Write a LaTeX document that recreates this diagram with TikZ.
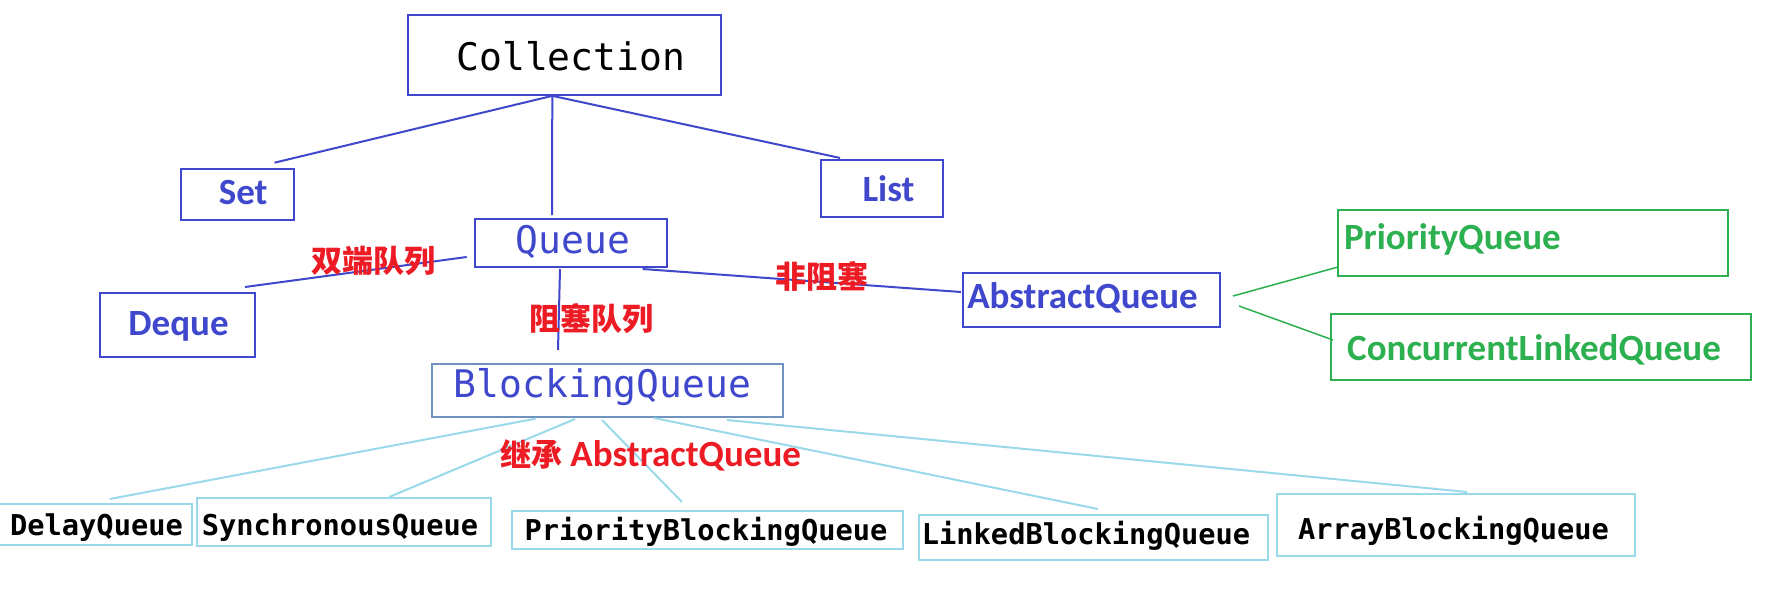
\documentclass[tikz,border=0pt]{standalone}
\usepackage{fontspec}
\newfontfamily\monof{DejaVu Sans Mono}
\newfontfamily\calf{Carlito}
\newfontfamily\cjkf{Noto Sans CJK SC}
\usetikzlibrary{calc}
\definecolor{pblue}{HTML}{3F48CC}
\definecolor{pred}{HTML}{ED1C24}
\definecolor{pgreen}{HTML}{2DB050}
\definecolor{plight}{HTML}{99D9EA}
\definecolor{pgray}{HTML}{7092BE}
\begin{document}
\begin{tikzpicture}[x=1pt,y=-1pt,
  bbox/.style={draw=pblue, line width=2pt, inner sep=0pt, outer sep=0pt},
  lbox/.style={draw=plight, line width=2pt, inner sep=0pt, outer sep=0pt},
  gbox/.style={draw=pgreen, line width=1.8pt, inner sep=0pt, outer sep=0pt},
  graybox/.style={draw=pgray, line width=2pt, inner sep=0pt, outer sep=0pt},
  txt/.style={inner sep=0pt, outer sep=0pt},
  monoT/.style={txt, font=\monof\fontsize{38}{40}\selectfont},
  monoB/.style={txt, font=\monof\bfseries\fontsize{28.7}{30}\selectfont},
  caliT/.style={txt, font=\calf\bfseries\fontsize{37}{40}\selectfont},
  cjkT/.style={txt, text=pred, font=\cjkf\bfseries\fontsize{31}{33}\selectfont},
  bl/.style={draw=pblue, line width=2pt},
  ll/.style={draw=plight, line width=2pt},
  gl/.style={draw=pgreen, line width=1.5pt}
]
\useasboundingbox[fill=white] (0,0) rectangle (1768,594);

% boxes
\node[bbox, minimum width=313.4pt, minimum height=79.7pt] (col) at (564.3,55) {};
\node[bbox, minimum width=112.5pt, minimum height=51pt] (set) at (237.7,194.5) {};
\node[bbox, minimum width=122.3pt, minimum height=56.7pt] (list) at (881.9,188.3) {};
\node[bbox, minimum width=192pt, minimum height=48pt] (queue) at (571,243) {};
\node[bbox, minimum width=155pt, minimum height=64pt] (deque) at (177.5,325) {};
\node[bbox, minimum width=257pt, minimum height=54pt] (abs) at (1091.5,300) {};
\node[gbox, minimum width=390pt, minimum height=66pt] (pq) at (1533,243) {};
\node[gbox, minimum width=420pt, minimum height=66pt] (clq) at (1541,347) {};
\node[graybox, minimum width=351pt, minimum height=53pt] (bq) at (607.5,390.5) {};
\node[lbox, minimum width=194pt, minimum height=41pt] (delay) at (94.8,524.5) {};
\node[lbox, minimum width=294.5pt, minimum height=48pt] (sync) at (344.2,522) {};
\node[lbox, minimum width=391pt, minimum height=38pt] (pbq) at (707.5,530) {};
\node[lbox, minimum width=349pt, minimum height=45pt] (lbq) at (1093.5,537.5) {};
\node[lbox, minimum width=358pt, minimum height=62pt] (abq) at (1456,525) {};

% texts
\node[monoT, anchor=base] (tcol) at (570.8,70.5) {Collection};
\node[caliT, text=pblue, anchor=base] (tset) at (243.2,204) {Set};
\node[caliT, text=pblue, anchor=base] (tlist) at (888.5,201) {List};
\node[monoT, text=pblue, anchor=base] (tqueue) at (573,253) {Queue};
\node[caliT, text=pblue, anchor=base] (tdeque) at (178.5,335) {Deque};
\node[caliT, text=pblue, anchor=base] (tabs) at (1082.5,308) {AbstractQueue};
\node[caliT, text=pgreen, anchor=base west] (tpq) at (1344,249) {PriorityQueue};
\node[caliT, text=pgreen, anchor=base] (tclq) at (1534,360) {ConcurrentLinkedQueue};
\node[monoT, text=pblue, anchor=base] (tbq) at (602.5,397.5) {BlockingQueue};
\node[monoB, anchor=base] (tdelay) at (96.5,535) {DelayQueue};
\node[monoB, anchor=base] (tsync) at (340,535) {SynchronousQueue};
\node[monoB, anchor=base] (tpbq) at (706,540) {PriorityBlockingQueue};
\node[monoB, anchor=base] (tlbq) at (1086,544) {LinkedBlockingQueue};
\node[monoB, anchor=base] (tabq) at (1453.5,539) {ArrayBlockingQueue};

% connectors
\draw[bl] ($(col.south)+(-12,1)$) -- ($(set.north)+(36.8,-6.3)$);
\draw[bl] ($(col.south)+(-12,1)$) -- ($(list.north west)+(19.3,-2)$);
\draw[bl] ($(col.south)+(-12,1)$) -- ($(queue.north)+(-19,-4)$);
\draw[bl] ($(queue.west)+(-8.3,14)$) -- ($(deque.north east)+(-10,-6)$);
\draw[bl] ($(queue.south east)+(-24.4,2)$) -- ($(abs.west)+(-2,-8)$);
\draw[bl] ($(queue.south)+(-11,2)$) -- ($(bq.north)+(-49.5,-14)$);
\draw[gl] ($(abs.east)+(13,-4)$) -- ($(pq.south west)+(0,-9)$);
\draw[gl] ($(abs.east)+(19,6)$) -- ($(clq.west)+(2,-7)$);
\draw[ll] ($(bq.south)+(-72,1.7)$) -- ($(delay.north)+(15,-5)$);
\draw[ll] ($(bq.south)+(-32.5,2)$) -- ($(sync.north)+(45,-1)$);
\draw[ll] ($(bq.south)+(-5.5,3)$) -- ($(pbq.north)+(-25.5,-9)$);
\draw[ll] ($(bq.south)+(46.5,1)$) -- ($(lbq.north)+(4.5,-6)$);
\draw[ll] ($(bq.south)+(119.5,3)$) -- ($(abq.north)+(11,-2)$);

% red labels
\node[cjkT] (lshuang) at (373.7,261) {双端队列};
\node[cjkT] (lzuse) at (591.5,319) {阻塞队列};
\node[cjkT] (lfei) at (821.5,276.5) {非阻塞};
\node[txt, text=pred, font=\calf\bfseries\fontsize{37}{40}\selectfont, anchor=base east] (ljc) at (801,466) {{\cjkf\bfseries\fontsize{31}{33}\selectfont 继承} AbstractQueue};
\end{tikzpicture}
\end{document}
